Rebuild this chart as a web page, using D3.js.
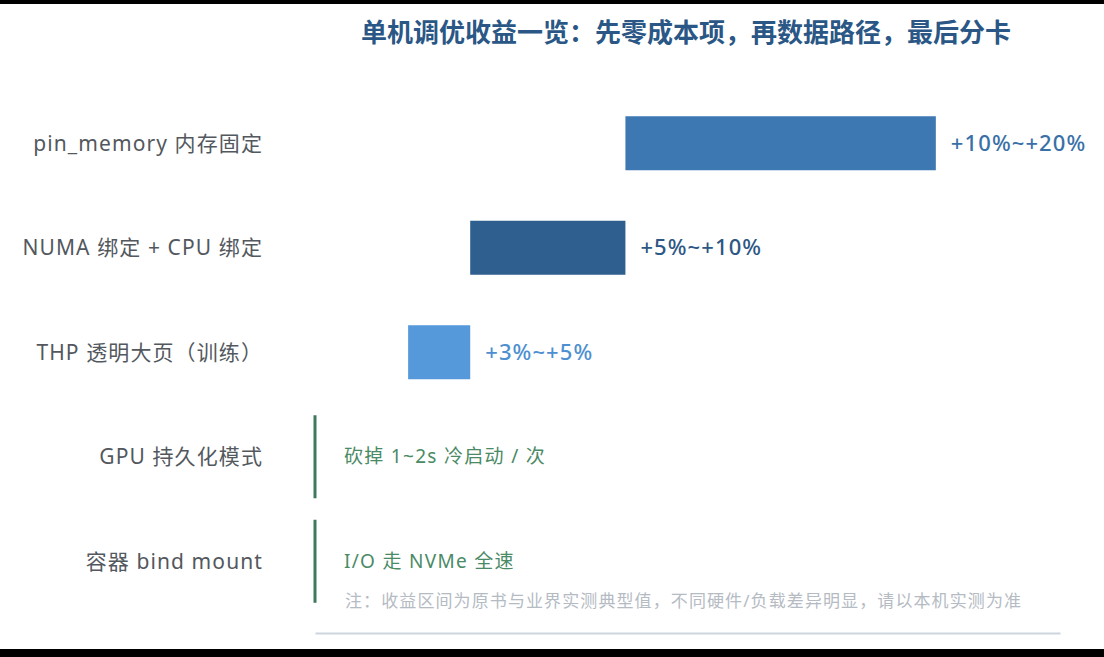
<!DOCTYPE html>
<html>
<head>
<meta charset="utf-8">
<script src="https://cdn.jsdelivr.net/npm/d3@7/dist/d3.min.js"></script>
<style>
html,body{margin:0;padding:0;background:#000;}
svg{display:block;}
text{font-family:"Noto Sans","Noto Sans CJK SC",sans-serif;}
</style>
</head>
<body>
<svg id="chart" width="1104" height="657"></svg>
<script>
// ---- data ----
const categories = ["pin_memory 内存固定", "NUMA 绑定 + CPU 绑定", "THP 透明大页（训练）", "GPU 持久化模式", "容器 bind mount"];
const lowValues  = [10, 5, 3, 0, 0];
const highValues = [20, 10, 5, 0, 0];
const valueLabels = ["+10%~+20%", "+5%~+10%", "+3%~+5%", "", ""];
const noteLabels = ["", "", "", "砍掉 1~2s 冷启动 / 次", "I/O 走 NVMe 全速"];
const barColors = ["#3d78b3", "#2f5f8f", "#5599db", "#3c7a5c", "#3c7a5c"];
const labelColors = ["#3a70a8", "#2d5784", "#4d8fd0", "#4a8a66", "#4a8a66"];
const xDomain = [0, 24];
const titleText = "单机调优收益一览：先零成本项，再数据路径，最后分卡";
const footnote = "注：收益区间为原书与业界实测典型值，不同硬件/负载差异明显，请以本机实测为准";

const svg = d3.select("#chart");
svg.append("rect").attr("x",0).attr("y",4).attr("width",1104).attr("height",645).attr("fill","#fff");

const x = d3.scaleLinear().domain(xDomain).range([315, 1060]);
const y = d3.scaleBand().domain(categories).range([91, 613.5]).padding(0);

// title
svg.append("text").attr("x", 686).attr("y", 42)
  .attr("text-anchor","middle").attr("font-size", 26).attr("font-weight", 700)
  .attr("fill", "#2a5785").text(titleText);

// category labels
svg.selectAll(".cat").data(categories).enter().append("text")
  .attr("x", 263).attr("y", d => y(d) + y.bandwidth()/2)
  .attr("dy", "0.35em").attr("text-anchor","end")
  .attr("font-size", 21).attr("letter-spacing", 1.1)
  .attr("fill", "#53585e").text(d => d);

const rows = categories.map((c,i)=>({c, lo: lowValues[i], hi: highValues[i], v: valueLabels[i], n: noteLabels[i], col: barColors[i], lc: labelColors[i]}));
const barH = 54, markH = 83;
svg.selectAll(".bar").data(rows.filter(r => r.hi > r.lo)).enter().append("rect")
  .attr("x", d => x(d.lo)).attr("width", d => x(d.hi) - x(d.lo))
  .attr("y", d => y(d.c) + y.bandwidth()/2 - barH/2).attr("height", barH)
  .attr("fill", d => d.col);

svg.selectAll(".mark").data(rows.filter(r => r.hi === r.lo)).enter().append("rect")
  .attr("x", d => x(d.lo) - 1.5).attr("width", 3)
  .attr("y", d => y(d.c) + y.bandwidth()/2 - markH/2).attr("height", markH)
  .attr("fill", d => d.col);

svg.selectAll(".val").data(rows.filter(r => r.v)).enter().append("text")
  .attr("x", d => x(d.hi) + 15).attr("y", d => y(d.c) + y.bandwidth()/2)
  .attr("dy","0.35em").attr("font-size", 22).attr("font-weight", 500)
  .attr("letter-spacing", 1.1)
  .attr("fill", d => d.lc).text(d => d.v);

svg.selectAll(".note").data(rows.filter(r => r.n)).enter().append("text")
  .attr("x", x(0) + 29).attr("y", d => y(d.c) + y.bandwidth()/2)
  .attr("dy","0.35em").attr("font-size", 19).attr("letter-spacing", 1.3)
  .attr("fill", d => d.lc).text(d => d.n);

const axis = svg.append("g").attr("transform","translate(0,633)")
  .call(d3.axisBottom(x).tickValues([]).tickSizeOuter(0));
axis.select(".domain").attr("stroke","#cdd5de").attr("stroke-width",2);

svg.append("text").attr("x", 345).attr("y", 607)
  .attr("font-size", 17).attr("letter-spacing", 1.1)
  .attr("fill", "#b5bbc3").text(footnote);
</script>
</body>
</html>
